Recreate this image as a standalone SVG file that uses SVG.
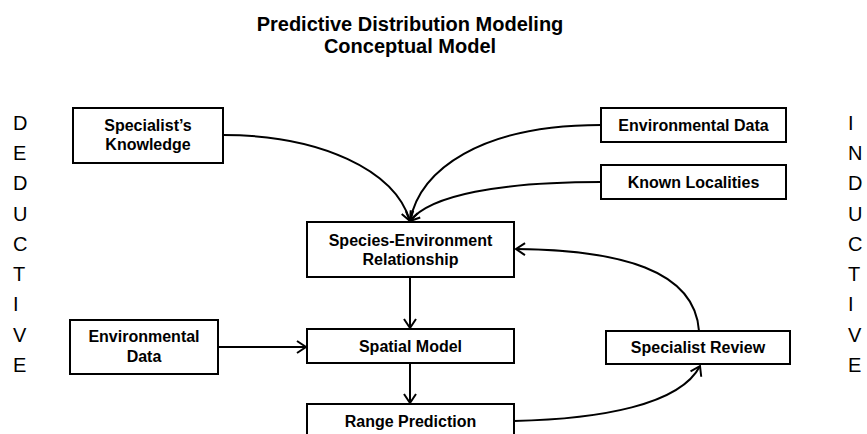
<svg xmlns="http://www.w3.org/2000/svg" width="867" height="434" viewBox="0 0 867 434">
<defs>
<style>
.box{fill:#fff;stroke:#000;stroke-width:2}
.lbl{font-family:"Liberation Sans",Arial,sans-serif;font-weight:bold;font-size:16px;fill:#000;text-anchor:middle}
.title{font-family:"Liberation Sans",Arial,sans-serif;font-weight:bold;font-size:20px;fill:#000;text-anchor:middle}
.side{font-family:"Liberation Sans",Arial,sans-serif;font-size:20px;fill:#000}
.edge{fill:none;stroke:#000;stroke-width:2;marker-end:url(#arr)}
</style>
<marker id="arr" markerUnits="userSpaceOnUse" markerWidth="12" markerHeight="14" refX="9" refY="6" orient="auto" overflow="visible">
<path d="M0,0 L9,6 L0,12" fill="none" stroke="#000" stroke-width="2"/>
</marker>
</defs>
<rect width="867" height="434" fill="#fff"/>
<g id="title">
<text class="title" x="410" y="31">Predictive Distribution Modeling</text>
<text class="title" x="410" y="53">Conceptual Model</text>
</g>
<g id="deductive" class="side">
<text x="13" y="130">D</text>
<text x="13" y="160">E</text>
<text x="13" y="190">D</text>
<text x="13" y="221">U</text>
<text x="13" y="251">C</text>
<text x="13" y="281">T</text>
<text x="13" y="311">I</text>
<text x="13" y="342">V</text>
<text x="13" y="372">E</text>
</g>
<g id="inductive" class="side">
<text x="848" y="130">I</text>
<text x="848" y="160">N</text>
<text x="848" y="190">D</text>
<text x="848" y="221">U</text>
<text x="848" y="251">C</text>
<text x="848" y="281">T</text>
<text x="848" y="311">I</text>
<text x="848" y="342">V</text>
<text x="848" y="372">E</text>
</g>
<g id="connectors">
<path class="edge" d="M223,135 C320,135 395,170 410,221"/>
<path class="edge" d="M601,125 C480,125 420,170 410,221"/>
<path class="edge" d="M601,182 C500,182 430,195 410,221"/>
<path class="edge" d="M410,277 L410,328"/>
<path class="edge" d="M410,363 L410,403"/>
<path class="edge" d="M218,347 L306,347"/>
<path class="edge" d="M514,421 C600,419 680,405 700,366"/>
<path class="edge" d="M699,331 C695,270 620,250 516,249"/>
</g>
<g id="specialists-knowledge">
<rect class="box" x="73" y="108" width="150" height="55"/>
<text class="lbl" x="148" y="131">Specialist’s</text>
<text class="lbl" x="148" y="150">Knowledge</text>
</g>
<g id="environmental-data-top">
<rect class="box" x="601" y="108" width="185" height="34"/>
<text class="lbl" x="693.5" y="131">Environmental Data</text>
</g>
<g id="known-localities">
<rect class="box" x="601" y="165" width="185" height="34"/>
<text class="lbl" x="693.5" y="188">Known Localities</text>
</g>
<g id="species-environment">
<rect class="box" x="307" y="222" width="207" height="55"/>
<text class="lbl" x="410.5" y="246">Species-Environment</text>
<text class="lbl" x="410.5" y="265">Relationship</text>
</g>
<g id="environmental-data-left">
<rect class="box" x="70" y="320" width="148" height="54"/>
<text class="lbl" x="144" y="342">Environmental</text>
<text class="lbl" x="144" y="362">Data</text>
</g>
<g id="spatial-model">
<rect class="box" x="307" y="329" width="207" height="34"/>
<text class="lbl" x="410.5" y="352">Spatial Model</text>
</g>
<g id="specialist-review">
<rect class="box" x="606" y="331" width="184" height="33"/>
<text class="lbl" x="698" y="353">Specialist Review</text>
</g>
<g id="range-prediction">
<rect class="box" x="307" y="404" width="207" height="36"/>
<text class="lbl" x="410.5" y="427">Range Prediction</text>
</g>
</svg>
